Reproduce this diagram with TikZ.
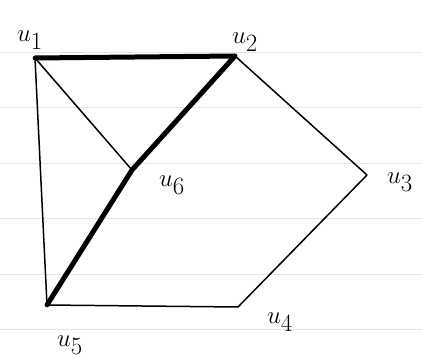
\documentclass[tikz,border=0pt]{standalone}
\begin{document}
\begin{tikzpicture}[x=1pt,y=-1pt,
  vtx/.style={circle,inner sep=0pt,minimum size=0pt},
  lbl/.style={inner sep=0pt,font=\fontsize{34}{38}\selectfont},
  thinedge/.style={line width=1.5pt,line cap=round},
  thickedge/.style={line width=5pt,line cap=round},
  ruled/.style={black!10,line width=0.8pt}]
\useasboundingbox (0,0) rectangle (422,363);
\foreach \yy in {52,107,163,218,274,329} \draw[ruled] (0,\yy) -- (422,\yy);
\node[vtx] (u1) at (35,58) {};
\node[vtx] (u2) at (235,56) {};
\node[vtx] (u3) at (367,175) {};
\node[vtx] (u4) at (238,307) {};
\node[vtx] (u5) at (47,305) {};
\node[vtx] (u6) at (132,170) {};
\node[lbl] (l1) at (30,40) {$u_1$};
\node[lbl] (l2) at (245,42) {$u_2$};
\node[lbl] (l3) at (400,182) {$u_3$};
\node[lbl] (l4) at (280,322) {$u_4$};
\node[lbl] (l5) at (70,345) {$u_5$};
\node[lbl] (l6) at (172,185) {$u_6$};
\draw[thickedge] (u1) -- (u2);
\draw[thickedge] (u2) -- (u6) -- (u5);
\draw[thinedge] (u1) -- (u6);
\draw[thinedge] (u1) -- (u5);
\draw[thinedge] (u2) -- (u3);
\draw[thinedge] (u3) -- (u4);
\draw[thinedge] (u4) -- (u5);
\end{tikzpicture}
\end{document}
